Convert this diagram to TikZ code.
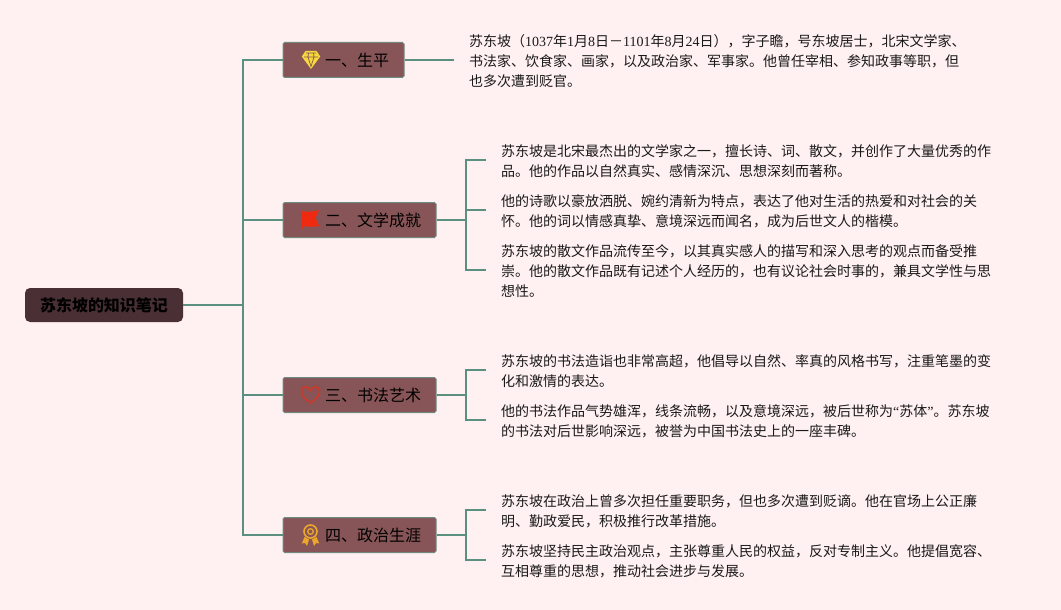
\documentclass[tikz,border=0pt]{standalone}
\usepackage{fontspec}
\setmainfont{Noto Sans CJK SC}
\newfontfamily\latinserif{Liberation Serif}
\newcommand{\lat}[1]{{\latinserif #1}}
\newcommand{\low}[1]{\raisebox{-2pt}{#1}}
\definecolor{bgc}{HTML}{FFF0F1}
\definecolor{linec}{HTML}{5B9080}
\definecolor{boxc}{HTML}{875557}
\definecolor{boxb}{HTML}{6F8A80}
\definecolor{rootc}{HTML}{4A3035}
\definecolor{txt}{HTML}{1A1A1A}
\definecolor{gem}{HTML}{F7D83C}
\definecolor{flagc}{HTML}{F02A10}
\definecolor{heartc}{HTML}{C93A2C}
\definecolor{medal}{HTML}{EBA62C}
\tikzset{
  conn/.style={draw=linec,line width=2pt,line join=miter},
  rootbox/.style={fill=rootc,rounded corners=5pt,minimum width=158pt,minimum height=34pt,inner sep=0pt,text=black,font=\fontsize{16}{20}\selectfont\bfseries},
  branch/.style={fill=boxc,draw=boxb,line width=1pt,rounded corners=1.5pt,minimum height=35pt,inner sep=0pt,text=black,font=\fontsize{16}{20}\selectfont},
  leaf/.style={anchor=west,align=left,inner xsep=15pt,inner ysep=0pt,text=txt,font=\fontsize{14}{20}\selectfont},
  up/.style={yshift=1.5pt},
}
\begin{document}
\begin{tikzpicture}[x=1pt,y=-1pt]
\useasboundingbox (0,0) rectangle (1061,610);
\fill[bgc] (0,0) rectangle (1061,610);
\node[rootbox] (root) at (104,305) {苏东坡的知识笔记};
\node[branch,minimum width=121pt] (b1) at (343.5,60) {\kern27pt \low{一、生平}};
\node[branch,minimum width=153pt] (b2) at (359.5,220) {\kern27pt \low{二、文学成就}};
\node[branch,minimum width=153pt] (b3) at (359.5,395) {\kern27pt \low{三、书法艺术}};
\node[branch,minimum width=153pt] (b4) at (359.5,535) {\kern27pt \low{四、政治生涯}};
\coordinate (tx) at (243,305);
\node[leaf] (l1) at (454,61.5) {苏东坡（\lat{1037}年\lat{1}月\lat{8}日－\lat{1101}年\lat{8}月\lat{24}日），字子瞻，号东坡居士，北宋文学家、\\书法家、饮食家、画家，以及政治家、军事家。他曾任宰相、参知政事等职，但\\也多次遭到贬官。};
\node[leaf] (l21) at (486,161.5) {苏东坡是北宋最杰出的文学家之一，擅长诗、词、散文，并创作了大量优秀的作\\品。他的作品以自然真实、感情深沉、思想深刻而著称。};
\node[leaf] (l22) at (486,211.5) {他的诗歌以豪放洒脱、婉约清新为特点，表达了他对生活的热爱和对社会的关\\怀。他的词以情感真挚、意境深远而闻名，成为后世文人的楷模。};
\node[leaf] (l23) at (486,271.5) {苏东坡的散文作品流传至今，以其真实感人的描写和深入思考的观点而备受推\\崇。他的散文作品既有记述个人经历的，也有议论社会时事的，兼具文学性与思\\想性。};
\node[leaf] (l31) at (486,371.5) {苏东坡的书法造诣也非常高超，他倡导以自然、率真的风格书写，注重笔墨的变\\化和激情的表达。};
\node[leaf] (l32) at (486,421.5) {他的书法作品气势雄浑，线条流畅，以及意境深远，被后世称为\lat{“}苏体\lat{”}。苏东坡\\的书法对后世影响深远，被誉为中国书法史上的一座丰碑。};
\node[leaf] (l41) at (486,511.5) {苏东坡在政治上曾多次担任重要职务，但也多次遭到贬谪。他在官场上公正廉\\明、勤政爱民，积极推行改革措施。};
\node[leaf] (l42) at (486,561.5) {苏东坡坚持民主政治观点，主张尊重人民的权益，反对专制主义。他提倡宽容、\\互相尊重的思想，推动社会进步与发展。};
% connectors
\draw[conn] (root.east) -- (tx);
\foreach \b in {b1,b2,b3,b4} \draw[conn] (tx |- \b.west) -- (\b.west);
\draw[conn,line cap=rect] (tx |- b1.west) -- (tx |- b4.west);
\draw[conn] (b1.east) -- (b1.east -| l1.west);
\coordinate (t2) at (466,220);
\draw[conn] (b2.east) -- (t2);
\draw[conn] ([up]l21.west) -| (t2) |- ([up]l23.west);
\draw[conn] ([up]l22.west) -- ++(-20,0);
\coordinate (t3) at (466,395);
\draw[conn] (b3.east) -- (t3);
\draw[conn] ([up]l31.west) -| (t3) |- ([up]l32.west);
\coordinate (t4) at (466,535);
\draw[conn] (b4.east) -- (t4);
\draw[conn] ([up]l41.west) -| (t4) |- ([up]l42.west);
% diamond icon
\begin{scope}[shift={(311,60)}]
  \fill[gem] (-5.5,-9) -- (5.5,-9) -- (9.2,-3.5) -- (0,9) -- (-9.2,-3.5) -- cycle;
  \draw[boxc,line width=.7pt] (-7,-3) -- (7,-3) (-3,-3) -- (0,6.5) -- (3,-3) (-3,-3) -- (-2.5,-7) (3,-3) -- (2.5,-7) (-5,-7) -- (5,-7);
\end{scope}
% flag icon
\begin{scope}[shift={(310.5,220)}]
  \fill[flagc] (-9.5,-9) .. controls (-4,-8) and (2,-8) .. (8.5,-10) -- (5,-2) -- (8.5,6) .. controls (2,7) and (-3,7) .. (-7.5,6) -- (-8,9) -- (-9.5,9) -- cycle;
\end{scope}
% heart icon
\begin{scope}[shift={(310.5,395)}]
  \draw[heartc,line width=1.7pt,line join=round] (0,8) .. controls (-5,4) and (-9,1) .. (-9,-3) .. controls (-9,-9.5) and (-2,-10) .. (0,-4) .. controls (2,-10) and (9,-9.5) .. (9,-3) .. controls (9,1) and (5,4) .. (0,8) -- cycle;
\end{scope}
% medal icon
\begin{scope}[shift={(310.5,535)}]
  \draw[medal,line width=1.6pt] (0,-3.5) circle (6.5);
  \draw[medal,line width=1.3pt] (0,-3.5) circle (2.8);
  \fill[medal] (-6,2) -- (-8.7,8.5) -- (-5.5,8) -- (-3.5,11) -- (-1.5,4.5) -- cycle;
  \fill[medal] (6,2) -- (8.7,8.5) -- (5.5,8) -- (3.5,11) -- (1.5,4.5) -- cycle;
\end{scope}
\end{tikzpicture}
\end{document}
